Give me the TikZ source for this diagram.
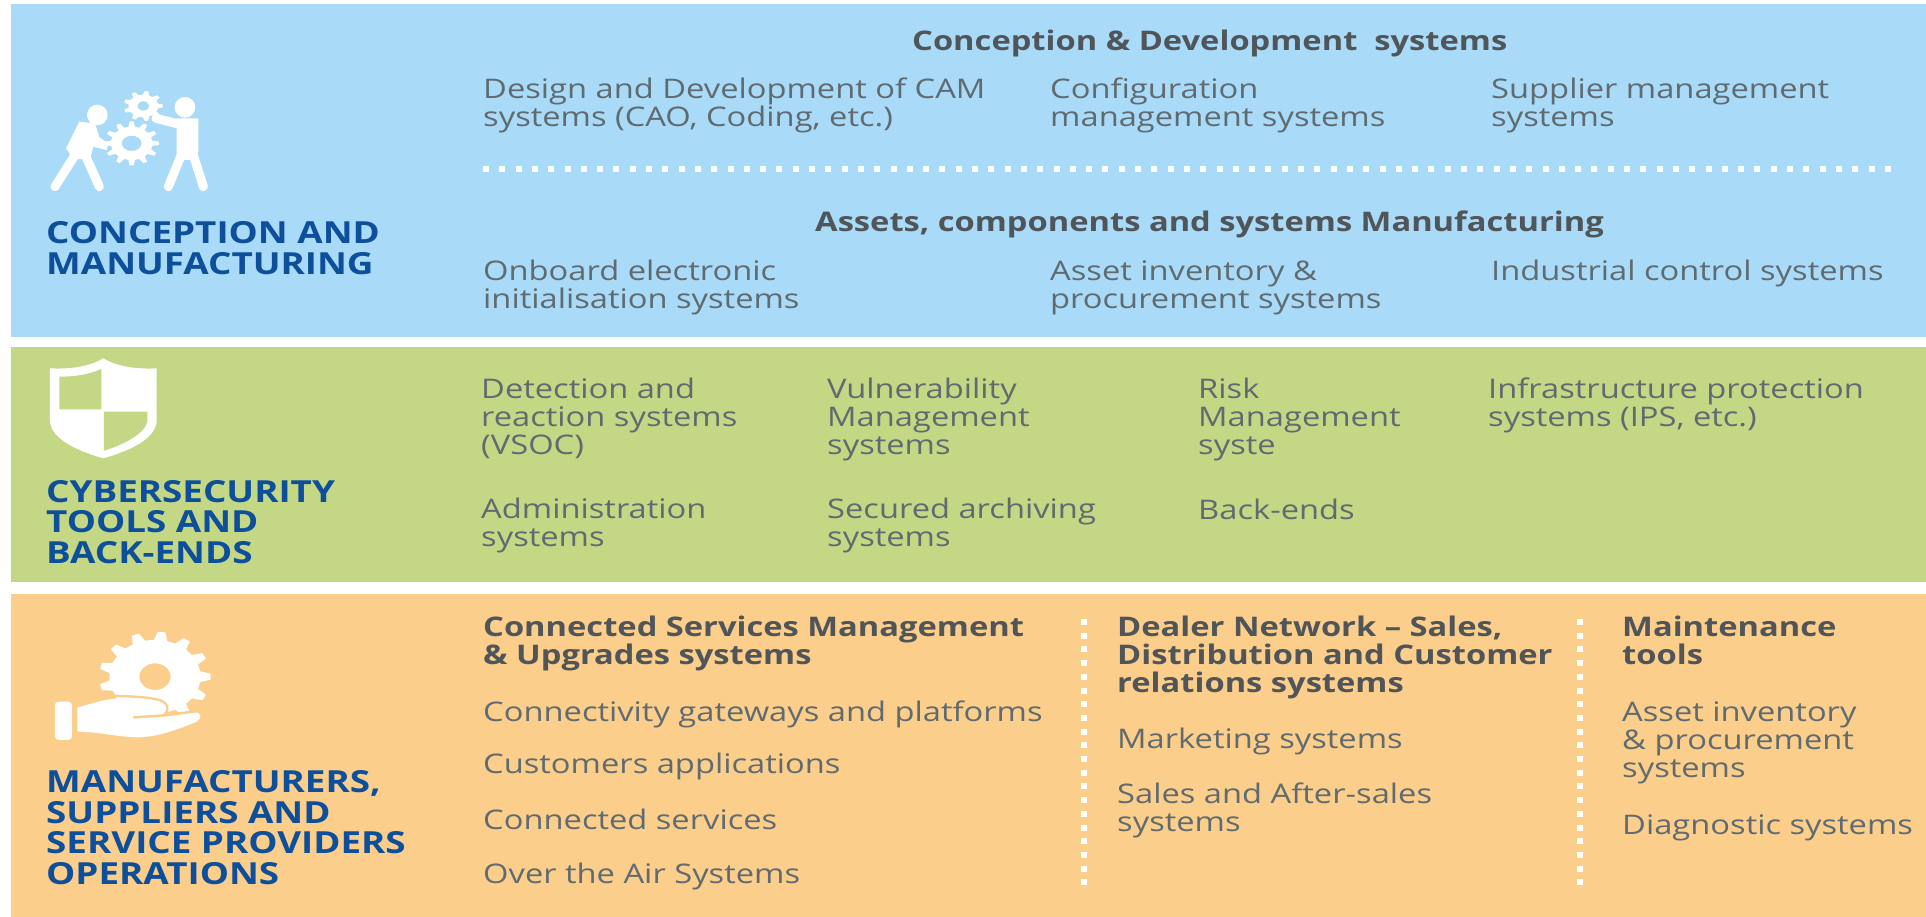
\documentclass[tikz,border=0pt]{standalone}
\usepackage{fontspec}
\setmainfont[FakeStretch=1.21]{Open Sans}
\newcommand{\gearshape}[8]{%
  \fill[white,even odd rule]
    ({#1+#3*#5*cos(-0.3*360/#6)},{#2+#4*#5*sin(-0.3*360/#6)})
    \foreach \k [evaluate=\k as \a using (\k-1)*360/#6] in {1,...,#6}{
      -- ({#1+#3*#5*cos(\a-0.3*360/#6)},{#2+#4*#5*sin(\a-0.3*360/#6)})
      -- ({#1+#3*cos(\a-0.14*360/#6)},{#2+#4*sin(\a-0.14*360/#6)})
      -- ({#1+#3*cos(\a+0.14*360/#6)},{#2+#4*sin(\a+0.14*360/#6)})
      -- ({#1+#3*#5*cos(\a+0.3*360/#6)},{#2+#4*#5*sin(\a+0.3*360/#6)})
    } -- cycle
    (#1,#2) ellipse[x radius=#7,y radius=#8];}
\begin{document}
\begin{tikzpicture}[x=1pt,y=-1pt,
  item/.style={anchor=base west,align=left,inner sep=0pt,yshift=-1pt,text=itemgray,font=\fontsize{27}{28}\selectfont},
  head/.style={anchor=base west,align=left,inner sep=0pt,yshift=-1pt,text=headgray,font=\fontsize{27}{28}\selectfont\bfseries},
  cat/.style={anchor=base west,align=left,inner sep=0pt,yshift=-1pt,text=catblue,font=\fontsize{30.4}{30.5}\selectfont\bfseries},
  hdots/.style={white,line width=6pt,dash pattern=on 6pt off 10.3pt},
  vdots/.style={white,line width=6pt,dash pattern=on 6pt off 7.7pt},
  limb/.style={white,line cap=round,line join=round},
  crop/.style={x=0.33333pt,y=-0.33333pt}
]
\definecolor{bandblue}{HTML}{A9DAF7}
\definecolor{bandgreen}{HTML}{C4D785}
\definecolor{bandorange}{HTML}{FBCE8B}
\definecolor{itemgray}{HTML}{5F6B70}
\definecolor{headgray}{HTML}{50555A}
\definecolor{catblue}{HTML}{0E4F9B}
\useasboundingbox (0,0) rectangle (1926,917);
\fill[white] (0,0) rectangle (1926,917);
\fill[bandblue] (11,4) rectangle (1926,337);
\fill[bandgreen] (11,347) rectangle (1926,582);
\fill[bandorange] (11,594) rectangle (1926,917);

% people and gears icon
\begin{scope}[crop]
  \gearshape{395}{430}{82}{66}{0.76}{12}{30}{23}
  \gearshape{430}{318}{59}{45}{0.76}{9}{18}{14}
  \fill[white] (292,345) ellipse[x radius=31,y radius=31];
  \fill[white] (555,322) ellipse[x radius=31,y radius=31];
  \fill[white] (238,365) -- (285,370) -- (298,412) -- (325,430) -- (320,450) -- (280,440) -- (270,480) -- (220,475) -- (198,445) -- cycle;
  \draw[limb,line width=9pt] (225,465) -- (165,560);
  \draw[limb,line width=9pt] (258,470) -- (298,560);
  \fill[white] (530,355) -- (595,355) -- (595,455) -- (585,480) -- (530,480) -- cycle;
  \draw[limb,line width=9pt] (535,372) -- (468,355);
  \draw[limb,line width=9pt] (542,470) -- (505,560);
  \draw[limb,line width=9pt] (580,465) -- (610,560);
\end{scope}

% shield icon
\begin{scope}[crop,shift={(0,1020)}]
  \fill[white] (310,55) .. controls (270,80) and (210,88) .. (150,85) -- (150,245)
    .. controls (155,300) and (240,335) .. (310,355)
    .. controls (380,335) and (465,300) .. (470,245) -- (470,85)
    .. controls (410,88) and (350,80) .. (310,55) -- cycle;
  \fill[bandgreen] (304,87) .. controls (265,105) and (220,110) .. (178,110) -- (178,208) -- (304,208) -- cycle;
  \fill[bandgreen] (312,215) -- (442,215) -- (442,245) .. controls (435,280) and (370,315) .. (312,332) -- cycle;
\end{scope}

% hand and gear icon
\begin{scope}[crop,shift={(0,1770)}]
  \gearshape{465}{260}{167}{135}{0.82}{13}{47}{40}
  \fill[white] (165,348) .. controls (165,338) and (170,335) .. (178,335) -- (204,335) .. controls (212,335) and (216,340) .. (216,348) -- (216,438) .. controls (216,446) and (212,450) .. (204,450) -- (178,450) .. controls (170,450) and (165,446) .. (165,438) -- cycle;
  \fill[white]
    (232,352) .. controls (265,345) and (300,330) .. (345,326)
    .. controls (400,326) and (450,328) .. (475,335)
    .. controls (495,340) and (502,355) .. (495,372)
    -- (590,367) .. controls (605,372) and (605,385) .. (590,395)
    .. controls (530,420) and (470,442) .. (410,442)
    .. controls (350,440) and (290,425) .. (232,425) -- cycle;
  \draw[bandorange,line width=2.3pt,line cap=round]
    (335,318) .. controls (390,318) and (450,322) .. (478,330)
    .. controls (503,338) and (510,358) .. (495,372);
  \draw[bandorange,line width=2.5pt,line cap=round] (402,382) -- (495,376) -- (600,362);
\end{scope}

% category titles
\node[cat] (catA) at (46,273) {CONCEPTION AND\\MANUFACTURING};
\node[cat] (catB) at (46,562) {CYBERSECURITY\\TOOLS AND\\BACK-ENDS};
\node[cat] (catC) at (46,883) {MANUFACTURERS,\\SUPPLIERS AND\\SERVICE PROVIDERS\\OPERATIONS};

% blue band
\node[head] (hA1) at (912,50) {Conception \& Development\ \ systems};
\node[item] (a1) at (483,126) {Design and Development of CAM\\systems (CAO, Coding, etc.)};
\node[item] (a2) at (1050,126) {Configuration\\management systems};
\node[item] (a3) at (1491,126) {Supplier management\\systems};
\coordinate (sepAl) at (483,169);
\coordinate (sepAr) at (1896,169);
\draw[hdots] (sepAl) -- (sepAr);
\node[head] (hA2) at (815,231) {Assets, components and systems Manufacturing};
\node[item] (a4) at (483,307) {Onboard electronic\\initialisation systems};
\node[item] (a5) at (1050,307) {Asset inventory \&\\procurement systems};
\node[item] (a6) at (1491,279) {Industrial control systems};

% green band
\node[item] (b1) at (481,453) {Detection and\\reaction systems\\(VSOC)};
\node[item] (b2) at (827,453) {Vulnerability\\Management\\systems};
\node[item] (b3) at (1198,453) {Risk\\Management\\syste};
\node[item] (b4) at (1488,425) {Infrastructure protection\\systems (IPS, etc.)};
\node[item] (b5) at (481,545) {Administration\\systems};
\node[item] (b6) at (827,545) {Secured archiving\\systems};
\node[item] (b7) at (1198,518) {Back-ends};

% orange band
\node[head] (hC1) at (483,663) {Connected Services Management\\\& Upgrades systems};
\node[item] (c1) at (483,720) {Connectivity gateways and platforms};
\node[item] (c2) at (483,772) {Customers applications};
\node[item] (c3) at (483,828) {Connected services};
\node[item] (c4) at (483,882) {Over the Air Systems};
\coordinate (sepBt) at (1084,619);
\coordinate (sepBb) at (1084,885);
\draw[vdots] (sepBt) -- (sepBb);
\node[head] (hC2) at (1117,691) {Dealer Network – Sales,\\Distribution and Customer\\relations systems};
\node[item] (c5) at (1117,747) {Marketing systems};
\node[item] (c6) at (1117,830) {Sales and After-sales\\systems};
\coordinate (sepCt) at (1580,619);
\coordinate (sepCb) at (1580,885);
\draw[vdots] (sepCt) -- (sepCb);
\node[head] (hC3) at (1622,663) {Maintenance\\tools};
\node[item] (c7) at (1622,776) {Asset inventory\\\& procurement\\systems};
\node[item] (c8) at (1622,833) {Diagnostic systems};
\end{tikzpicture}
\end{document}
